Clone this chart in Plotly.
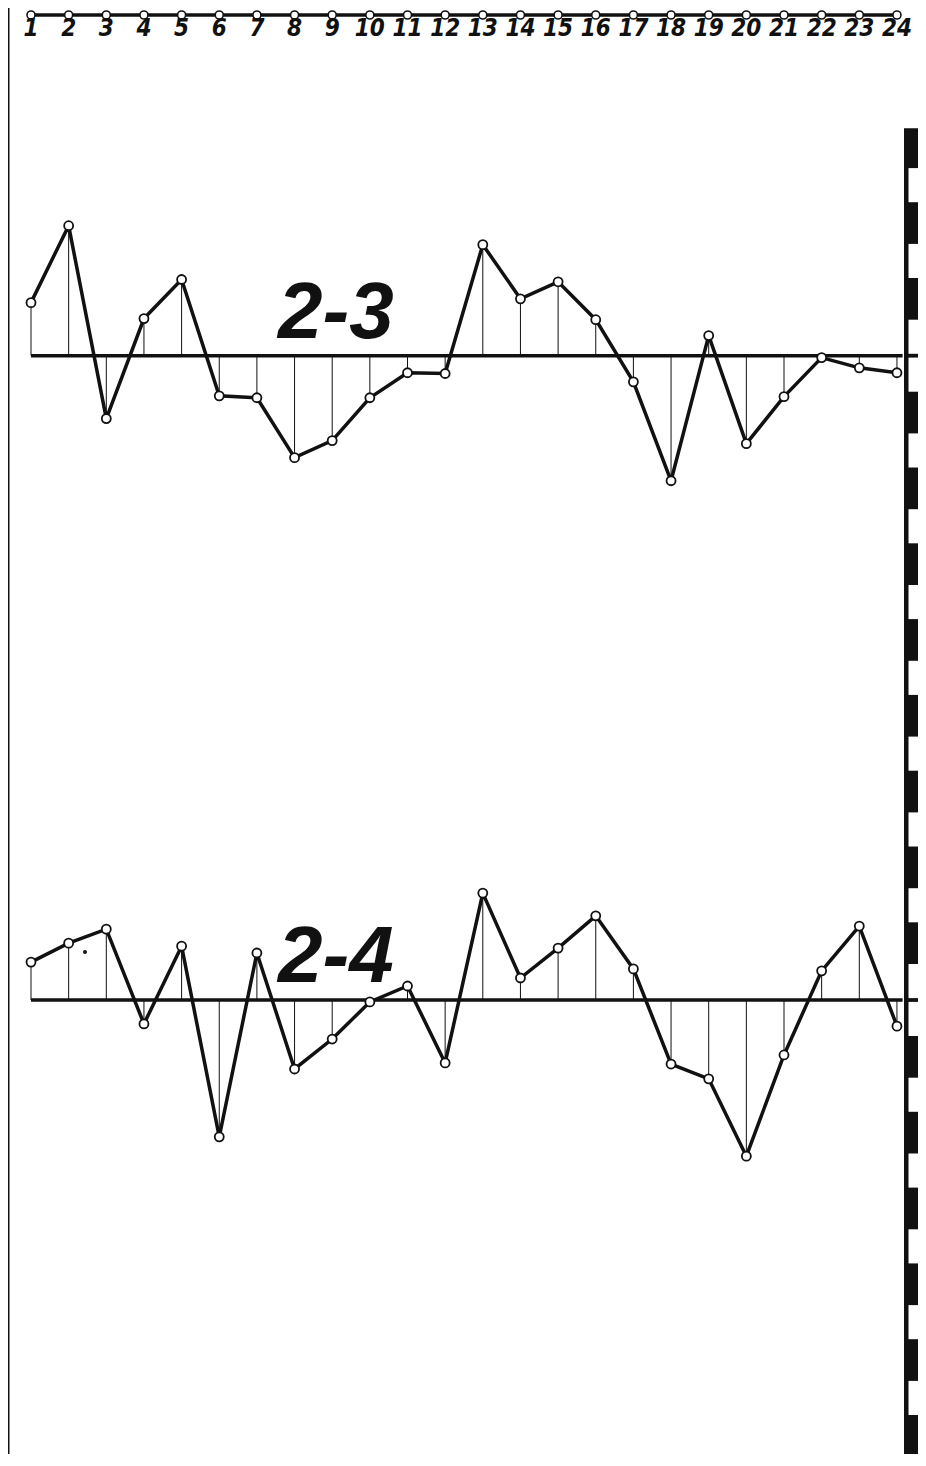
import plotly.graph_objects as go

# ---- data (values in units of one scale-bar stripe) ----
hours = list(range(1, 25))
tick_labels = [str(h) for h in hours]
series_23 = [1.40, 3.43, -1.66, 0.98, 2.01, -1.06, -1.11, -2.69, -2.24, -1.11, -0.45, -0.47,
             2.93, 1.50, 1.95, 0.95, -0.69, -3.30, 0.53, -2.32, -1.08, -0.05, -0.32, -0.45]
series_24 = [1.00, 1.50, 1.87, -0.63, 1.42, -3.61, 1.24, -1.82, -1.03, -0.05, 0.37, -1.66,
             2.82, 0.58, 1.37, 2.22, 0.82, -1.69, -2.08, -4.12, -1.45, 0.77, 1.95, -0.69]
labels = ["2-3", "2-4"]

# ---- layout geometry (page has an 8 px body margin) ----
M = 8
W, H = 926 - M, 1466 - 2 * M - 4
PX_X = 37.65          # pixels per hour
PX_Y = 37.9           # pixels per unit
X0_PX = 31 - M        # figure pixel of hour 1
Y0_PX = 1000 - M      # figure pixel of lower baseline
x_range = [1 - X0_PX / PX_X, 1 + (W - X0_PX) / PX_X]
y_range = [-(H - Y0_PX) / PX_Y, Y0_PX / PX_Y]


def xp(px):  # page pixel -> x value
    return 1 + (px - 31) / PX_X


def yp(px):  # page pixel -> y value
    return (1000 - px) / PX_Y


offsets = [17, 0]          # baseline of each panel
axis_y = yp(15)
label_y = yp(30)
base_end = 24.15

fig = go.Figure()
INK = "#111111"

for series, off, lab in zip([series_23, series_24], offsets, labels):
    dx, dy = [], []
    for h, v in zip(hours, series):
        dx += [h, h, None]
        dy += [off, off + v, None]
    fig.add_trace(go.Scatter(x=dx, y=dy, mode="lines",
                             line=dict(color=INK, width=1), hoverinfo="skip"))
    fig.add_trace(go.Scatter(x=[1, base_end], y=[off, off], mode="lines",
                             line=dict(color=INK, width=3.5), hoverinfo="skip"))
    fig.add_trace(go.Scatter(x=hours, y=[off + v for v in series], mode="lines+markers",
                             line=dict(color=INK, width=3.5),
                             marker=dict(symbol="circle", size=9, color="white",
                                         line=dict(color=INK, width=1.8)),
                             cliponaxis=False))
    fig.add_annotation(x=9.07, y=off + 1.2, text=lab, showarrow=False,
                       font=dict(family="Liberation Sans, Arial, sans-serif", size=80,
                                 color=INK, weight="bold", style="italic"),
                       xanchor="center", yanchor="middle")

# stray dot
fig.add_trace(go.Scatter(x=[xp(85)], y=[yp(952)], mode="markers",
                         marker=dict(size=4, color=INK), hoverinfo="skip"))

# top hour axis
fig.add_trace(go.Scatter(x=hours, y=[axis_y] * len(hours), mode="lines+markers",
                         line=dict(color=INK, width=3.5),
                         marker=dict(symbol="circle", size=8, color="white",
                                     line=dict(color=INK, width=1.6)),
                         cliponaxis=False))
fig.add_trace(go.Scatter(x=hours, y=[label_y] * len(hours), mode="text",
                         text=tick_labels, textposition="middle center",
                         textfont=dict(family="DejaVu Sans Condensed, DejaVu Sans, sans-serif",
                                       size=24, color=INK, weight="bold", style="italic"),
                         cliponaxis=False))

shapes = []
# left frame line
shapes.append(dict(type="line", xref="x", yref="y", x0=xp(8), x1=xp(8),
                   y0=y_range[1], y1=y_range[0],
                   line=dict(color=INK, width=3)))
# striped scale bar
bx0, bx1 = xp(904), xp(922)
wx0, wx1 = xp(908.5), xp(918.5)
bar_top, bar_bot = 23, y_range[0]
shapes.append(dict(type="rect", xref="x", yref="y", x0=bx0, x1=bx1, y0=bar_bot, y1=bar_top,
                   fillcolor=INK, line=dict(width=0)))
gap = 0.05
whites = []
for j in range(0, 6, 2):          # above upper baseline
    whites.append((17 + j, 18 + j))
for k in range(0, 17, 2):         # between baselines
    whites.append((k, k + 1))
for j in range(0, 12, 2):         # below lower baseline
    whites.append((-1 - j, -j))
for a, b in whites:
    shapes.append(dict(type="rect", xref="x", yref="y", x0=wx0, x1=wx1,
                       y0=a + gap, y1=b - gap, fillcolor="white", line=dict(width=0)))

fig.update_layout(
    width=W, height=H, margin=dict(l=0, r=0, t=0, b=0),
    paper_bgcolor="white", plot_bgcolor="white", showlegend=False,
    shapes=shapes,
    xaxis=dict(range=x_range, visible=False, fixedrange=True),
    yaxis=dict(range=y_range, visible=False, fixedrange=True),
)
fig.write_html("out.html")
